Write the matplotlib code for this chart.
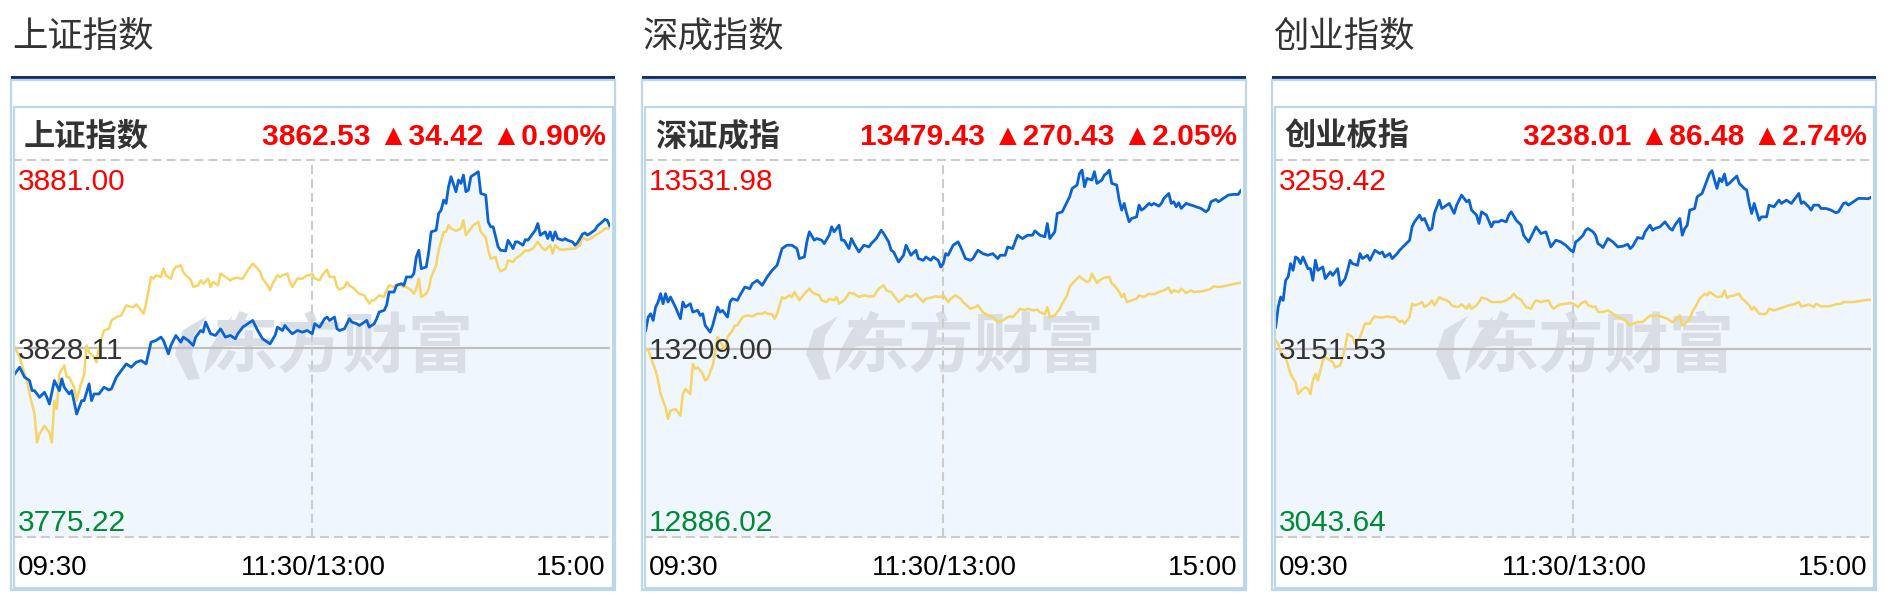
import numpy as np
import matplotlib
matplotlib.use("Agg")
import matplotlib.pyplot as plt
from matplotlib.patches import Rectangle, Polygon

plt.rcParams['font.family'] = ['Liberation Sans', 'Noto Sans CJK SC', 'DejaVu Sans']

# ---- data (minute index 0..240, 09:30 -> 15:00, lunch break removed) ----
titles = ["上证指数", "深成指数", "创业指数"]
names = ["上证指数", "深证成指", "创业板指"]
prev_close = [3828.11, 13209.00, 3151.53]
top_label = [3881.00, 13531.98, 3259.42]
bottom_label = [3775.22, 12886.02, 3043.64]
last_price = [3862.53, 13479.43, 3238.01]
change = [34.42, 270.43, 86.48]
change_pct = [0.90, 2.05, 2.74]
time_labels = ["09:30", "11:30/13:00", "15:00"]

sh_t = [0, 2, 4, 6, 7, 8, 10, 12, 13, 14, 16, 18, 19, 20, 22, 23, 25, 27, 28, 30,
        31, 32, 34, 36, 38, 39, 41, 43, 45, 47, 49, 51, 53, 55, 57, 59, 60, 62, 63, 65,
        67, 68, 70, 72, 73, 75, 76, 77, 79, 81, 83, 85, 87, 89, 90, 92, 94, 96, 97, 98,
        100, 101, 103, 105, 106, 108, 109, 110, 112, 114, 116, 118, 119,
        120, 121, 123, 125, 126, 127, 129, 130, 131, 133, 135, 136, 138, 139, 141, 142, 143, 145, 146, 147,
        149, 150, 151, 153, 154, 156, 157, 158, 160, 161, 162, 163, 164, 166, 167, 168, 170, 171, 172, 173,
        174, 175, 176, 178, 179, 180, 181, 182, 183, 184, 186, 187, 188, 190, 191, 192, 193, 195, 196, 198,
        199, 201, 202, 203, 205, 206, 207, 209, 210, 211, 212, 214, 215, 216, 217, 218, 219, 221, 222, 223,
        225, 226, 227, 229, 230, 231, 233, 234, 235, 237, 238, 239, 240]
sh_price = [3820.98, 3822.86, 3820.04, 3819.11, 3816.29, 3816.29, 3814.42, 3815.82, 3814.42, 3812.54,
            3819.11, 3816.29, 3819.58, 3817.23, 3815.36, 3816.29, 3809.73, 3813.48, 3813.48, 3818.17,
            3813.48, 3815.36, 3815.36, 3817.23, 3816.48, 3816.76, 3820.04, 3821.92, 3823.80, 3822.86,
            3824.26, 3824.73, 3823.80, 3829.89, 3830.36, 3831.30, 3830.36, 3826.61, 3828.95, 3831.77,
            3829.89, 3831.30, 3830.36, 3828.95, 3831.30, 3833.17, 3832.71, 3835.52, 3832.24, 3831.77,
            3833.64, 3831.30, 3831.77, 3830.83, 3832.24, 3834.11, 3835.05, 3835.99, 3834.58, 3833.17,
            3830.83, 3830.36, 3829.42, 3831.77, 3834.11, 3833.17, 3834.58, 3833.64, 3832.24, 3833.17,
            3832.71, 3833.17, 3832.71,
            3832.24, 3835.05, 3834.11, 3836.46, 3836.93, 3835.99, 3836.93, 3833.64, 3833.17, 3833.64,
            3836.46, 3835.52, 3835.05, 3834.58, 3835.52, 3835.99, 3834.11, 3835.05, 3836.46, 3838.33,
            3838.80, 3840.21, 3843.96, 3843.96, 3845.83, 3846.30, 3845.83, 3848.18, 3848.18, 3849.12,
            3853.81, 3855.68, 3850.52, 3850.99, 3855.21, 3860.84, 3861.31, 3866.00, 3866.93, 3869.75,
            3868.81, 3873.50, 3876.31, 3872.09, 3875.37, 3874.44, 3876.78, 3872.09, 3872.56, 3876.31,
            3877.25, 3877.72, 3871.62, 3871.16, 3863.65, 3862.25, 3862.25, 3856.62, 3855.68, 3855.49,
            3858.49, 3856.15, 3858.03, 3858.03, 3857.09, 3858.68, 3858.49, 3860.37, 3861.31, 3863.18,
            3859.90, 3860.84, 3858.96, 3860.84, 3858.49, 3860.84, 3858.96, 3858.49, 3858.96, 3858.49,
            3858.03, 3857.09, 3857.74, 3860.18, 3860.56, 3859.90, 3860.84, 3861.31, 3862.43, 3863.65,
            3864.31, 3864.12, 3862.53]

sh_avg_t = [0, 1, 2, 4, 5, 6, 8, 9, 10, 12, 14, 15, 16, 17, 18, 20, 21, 22, 24, 25,
            26, 28, 29, 30, 32, 33, 34, 36, 38, 39, 41, 43, 44, 45, 47, 48, 49, 51, 52, 53,
            55, 56, 57, 59, 60, 61, 63, 64, 65, 67, 68, 69, 71, 72, 74, 75, 76, 78, 79, 80,
            82, 83, 84, 86, 87, 88, 90, 91, 92, 94, 95, 96, 98, 99, 100, 102, 103, 104, 106, 107,
            108, 110, 111, 112, 114, 115, 116, 118, 119,
            120, 121, 123, 124, 126, 127, 129, 130, 131, 133, 134, 135, 137, 138, 139, 141, 143, 144, 145, 147,
            149, 150, 151, 153, 154, 155, 157, 158, 160, 161, 162, 163, 164, 166, 167, 168, 170, 171, 173, 174,
            175, 176, 178, 180, 181, 182, 183, 185, 186, 187, 188, 190, 191, 192, 194, 195, 196, 198, 199, 201,
            202, 204, 206, 207, 209, 210, 211, 213, 214, 216, 217, 218, 220, 222, 224, 226, 228, 229, 231, 233,
            235, 237, 238, 240]
sh_avg = [3828.49, 3827.08, 3825.67, 3820.98, 3819.11, 3815.36, 3809.73, 3801.76, 3804.10, 3806.45,
          3804.57, 3801.76, 3813.48, 3811.14, 3820.98, 3823.33, 3820.04, 3820.04, 3817.23, 3813.48,
          3816.29, 3820.98, 3828.95, 3827.08, 3825.67, 3824.26, 3828.49, 3833.17, 3833.64, 3835.99,
          3836.93, 3837.39, 3838.80, 3840.21, 3839.74, 3839.74, 3840.49, 3838.80, 3837.86, 3840.68,
          3848.18, 3847.71, 3848.65, 3848.18, 3850.52, 3848.65, 3847.71, 3850.05, 3850.99, 3851.46,
          3849.59, 3848.65, 3847.43, 3845.37, 3845.83, 3847.24, 3846.30, 3847.71, 3845.37, 3846.77,
          3845.83, 3849.12, 3848.65, 3847.71, 3847.24, 3847.71, 3847.99, 3847.71, 3847.71, 3850.05,
          3850.99, 3851.93, 3850.52, 3849.59, 3847.71, 3845.83, 3844.43, 3846.30, 3848.65, 3848.18,
          3848.65, 3849.12, 3846.77, 3845.37, 3847.71, 3847.71, 3847.71, 3848.65, 3848.65,
          3849.12, 3847.71, 3847.24, 3848.65, 3850.24, 3848.18, 3848.18, 3845.37, 3844.62, 3845.37,
          3846.77, 3845.83, 3844.90, 3843.96, 3843.49, 3843.02, 3840.68, 3841.61, 3841.61, 3843.02,
          3842.55, 3844.43, 3845.83, 3845.37, 3845.83, 3846.12, 3845.37, 3845.37, 3844.43, 3843.49,
          3844.90, 3847.71, 3842.55, 3843.49, 3844.90, 3848.18, 3851.46, 3855.68, 3860.84, 3860.84,
          3862.71, 3861.78, 3861.12, 3861.78, 3864.12, 3859.90, 3860.84, 3862.71, 3863.18, 3863.65,
          3860.84, 3859.24, 3855.68, 3853.34, 3853.81, 3850.99, 3849.77, 3850.52, 3852.87, 3852.40,
          3853.34, 3854.27, 3855.68, 3855.49, 3856.15, 3857.09, 3858.03, 3856.15, 3855.68, 3857.09,
          3854.74, 3857.09, 3855.87, 3855.87, 3856.06, 3856.15, 3857.09, 3859.43, 3858.49, 3859.24,
          3860.18, 3861.03, 3861.78, 3861.78]

sz_t = [0, 1, 2, 3, 4, 5, 6, 7, 8, 9, 10, 12, 14, 15, 16, 18, 19, 21, 22, 23,
        24, 26, 27, 29, 30, 31, 33, 34, 35, 37, 38, 40, 42, 43, 45, 47, 49, 51, 53, 54,
        55, 57, 59, 61, 62, 64, 65, 66, 68, 69, 71, 72, 74, 75, 76, 78, 79, 80, 82, 83,
        84, 86, 88, 90, 91, 93, 95, 96, 98, 99, 100, 102, 104, 105, 107, 109, 110, 112, 113, 115,
        116, 118, 119,
        120, 121, 122, 124, 126, 127, 129, 131, 132, 134, 136, 138, 140, 142, 143, 145, 146, 148, 150, 152,
        154, 156, 157, 159, 161, 162, 163, 165, 166, 168, 170, 171, 172, 174, 175, 176, 177, 178, 180, 181,
        182, 184, 185, 186, 187, 188, 190, 191, 192, 193, 194, 195, 196, 198, 199, 200, 201, 203, 204, 205,
        207, 208, 209, 211, 212, 213, 214, 215, 216, 218, 220, 221, 222, 224, 226, 227, 228, 230, 231, 233,
        235, 237, 239, 240]
sz_price = [13239.9, 13262.8, 13268.6, 13257.1, 13280.0, 13288.6, 13302.9, 13285.7, 13302.9, 13288.6,
            13297.2, 13280.0, 13260.0, 13288.6, 13280.0, 13285.7, 13271.4, 13274.3, 13265.7, 13268.6,
            13248.5, 13237.1, 13248.5, 13280.0, 13271.4, 13274.3, 13262.8, 13288.6, 13294.3, 13291.5,
            13300.1, 13314.4, 13311.5, 13320.1, 13325.8, 13317.2, 13331.6, 13343.0, 13351.6, 13365.9,
            13380.2, 13386.0, 13386.0, 13380.2, 13363.1, 13365.9, 13391.7, 13408.9, 13394.6, 13397.4,
            13394.6, 13388.8, 13403.1, 13417.5, 13408.9, 13420.3, 13394.6, 13394.6, 13380.2, 13397.4,
            13388.8, 13374.5, 13386.0, 13383.1, 13388.8, 13397.4, 13411.7, 13406.0, 13391.7, 13377.4,
            13374.5, 13357.3, 13368.8, 13386.0, 13368.8, 13377.4, 13363.1, 13360.2, 13365.9, 13360.2,
            13365.9, 13360.2, 13348.7,
            13354.5, 13371.6, 13368.8, 13386.0, 13391.7, 13383.1, 13363.1, 13360.2, 13363.1, 13377.4,
            13371.6, 13368.8, 13371.6, 13363.1, 13368.8, 13368.8, 13383.1, 13380.2, 13403.1, 13397.4,
            13403.1, 13403.1, 13410.6, 13403.1, 13400.3, 13423.2, 13397.4, 13408.9, 13440.4, 13443.2,
            13460.4, 13469.0, 13483.3, 13489.1, 13509.1, 13514.8, 13486.2, 13500.5, 13497.6, 13512.0,
            13491.9, 13497.6, 13506.2, 13509.1, 13514.8, 13491.9, 13489.1, 13463.3, 13446.1, 13457.6,
            13440.4, 13426.1, 13431.8, 13434.6, 13454.7, 13446.1, 13449.0, 13457.6, 13454.7, 13457.6,
            13453.0, 13457.6, 13466.1, 13474.7, 13457.6, 13460.4, 13451.8, 13458.7, 13449.0, 13457.6,
            13454.7, 13453.5, 13451.8, 13449.0, 13443.2, 13447.2, 13460.4, 13464.4, 13460.4, 13466.1,
            13471.9, 13473.0, 13473.0, 13479.43]

sz_avg_t = [0, 1, 2, 4, 5, 6, 8, 9, 10, 12, 14, 15, 16, 18, 19, 20, 21, 23, 24, 25,
            27, 28, 29, 31, 32, 33, 35, 36, 37, 39, 41, 43, 45, 47, 48, 49, 51, 52, 53, 55,
            56, 58, 59, 60, 62, 64, 66, 67, 68, 70, 71, 73, 74, 76, 77, 78, 80, 81, 82, 84,
            86, 88, 90, 92, 93, 94, 96, 97, 99, 100, 102, 104, 105, 107, 109, 110, 112, 113, 115, 117,
            119,
            120, 122, 123, 125, 127, 128, 131, 133, 134, 136, 138, 140, 142, 144, 146, 147, 148, 150, 151, 153,
            154, 156, 158, 159, 161, 162, 163, 165, 167, 168, 170, 171, 172, 174, 175, 176, 178, 179, 180, 182,
            183, 185, 187, 188, 189, 191, 192, 193, 194, 196, 198, 199, 201, 203, 205, 207, 209, 211, 212, 213,
            215, 216, 218, 220, 221, 224, 226, 228, 229, 231, 233, 236, 238, 240]
sz_avg = [13205.6, 13208.4, 13194.1, 13171.2, 13154.0, 13131.1, 13108.2, 13088.2, 13102.5, 13105.3,
          13093.9, 13131.1, 13139.7, 13131.1, 13182.7, 13174.1, 13176.9, 13165.5, 13154.0, 13156.9,
          13179.8, 13202.7, 13228.5, 13214.2, 13205.6, 13228.5, 13239.9, 13248.5, 13248.5, 13262.8,
          13265.7, 13264.0, 13268.6, 13268.6, 13271.4, 13268.6, 13267.5, 13260.0, 13268.6, 13297.2,
          13294.3, 13300.1, 13297.2, 13305.8, 13291.5, 13302.9, 13311.5, 13305.8, 13302.9, 13300.1,
          13291.5, 13288.6, 13294.3, 13291.5, 13297.2, 13285.7, 13291.5, 13297.2, 13304.1, 13302.9,
          13297.2, 13300.1, 13298.3, 13298.3, 13305.8, 13311.5, 13317.2, 13308.6, 13305.8, 13300.1,
          13288.6, 13294.3, 13300.1, 13297.2, 13302.9, 13297.2, 13288.6, 13294.3, 13296.0, 13298.3,
          13297.2,
          13300.1, 13288.6, 13294.3, 13300.1, 13294.3, 13288.6, 13277.2, 13280.0, 13282.9, 13271.4,
          13265.7, 13262.8, 13254.2, 13257.1, 13262.8, 13264.0, 13262.8, 13271.4, 13277.2, 13274.3,
          13277.2, 13274.3, 13275.4, 13271.4, 13267.4, 13280.0, 13262.8, 13265.7, 13277.2, 13285.7,
          13300.1, 13314.4, 13320.1, 13328.7, 13332.7, 13328.7, 13323.0, 13324.7, 13337.3, 13321.2,
          13325.8, 13330.4, 13331.6, 13320.1, 13317.2, 13305.8, 13297.2, 13302.9, 13288.6, 13291.5,
          13294.3, 13300.1, 13297.2, 13302.9, 13301.8, 13305.8, 13308.6, 13313.2, 13304.1, 13308.6,
          13305.8, 13311.5, 13304.1, 13308.6, 13305.8, 13306.9, 13308.6, 13311.5, 13315.5, 13314.4,
          13315.5, 13318.4, 13320.1, 13321.8]

cy_t = [0, 1, 2, 3, 4, 5, 6, 7, 8, 9, 10, 11, 13, 14, 15, 16, 17, 19, 20, 22,
        23, 25, 26, 28, 29, 30, 31, 33, 34, 35, 37, 38, 40, 42, 43, 44, 46, 47, 49, 50,
        52, 54, 55, 56, 58, 59, 60, 62, 63, 64, 66, 67, 68, 70, 72, 73, 75, 77, 78, 79,
        81, 82, 83, 85, 87, 88, 90, 91, 93, 94, 95, 97, 99, 100, 102, 104, 105, 107, 109, 111,
        113, 115, 117, 119,
        120, 121, 122, 124, 125, 126, 128, 129, 130, 131, 132, 134, 136, 138, 140, 142, 143, 144, 146, 148,
        149, 151, 152, 153, 155, 157, 159, 160, 161, 163, 164, 165, 166, 167, 169, 170, 172, 173, 175, 176,
        177, 178, 179, 180, 181, 182, 183, 185, 186, 187, 189, 190, 191, 192, 193, 195, 196, 198, 199, 201,
        202, 203, 204, 206, 208, 209, 211, 212, 213, 215, 216, 217, 219, 220, 222, 224, 226, 227, 229, 230,
        231, 233, 235, 237, 239, 240]
cy_price = [3163.77, 3175.25, 3180.99, 3179.08, 3190.56, 3192.47, 3200.12, 3196.29, 3203.95, 3202.99,
            3200.12, 3203.95, 3197.25, 3197.25, 3190.56, 3202.03, 3196.29, 3198.21, 3191.51, 3195.34,
            3193.42, 3197.25, 3187.69, 3191.51, 3196.29, 3202.03, 3200.12, 3199.16, 3205.86, 3202.99,
            3204.90, 3202.03, 3207.77, 3205.86, 3206.82, 3203.95, 3205.86, 3202.99, 3205.86, 3207.77,
            3210.64, 3213.51, 3221.16, 3224.03, 3227.86, 3224.99, 3225.95, 3219.25, 3220.21, 3228.82,
            3236.47, 3231.68, 3232.64, 3234.55, 3228.82, 3233.60, 3239.34, 3235.51, 3236.47, 3230.73,
            3227.86, 3223.08, 3229.77, 3227.86, 3221.16, 3224.03, 3224.03, 3224.99, 3224.03, 3227.86,
            3229.77, 3224.99, 3222.12, 3216.38, 3212.55, 3218.29, 3221.16, 3217.34, 3218.29, 3209.69,
            3213.51, 3212.55, 3210.64, 3207.77,
            3206.82, 3212.55, 3213.51, 3216.38, 3219.25, 3220.21, 3218.29, 3216.38, 3211.60, 3210.64,
            3209.30, 3214.47, 3212.55, 3209.69, 3210.07, 3211.22, 3208.73, 3210.07, 3215.04, 3214.47,
            3218.29, 3222.12, 3219.25, 3220.21, 3221.16, 3224.03, 3220.21, 3219.25, 3222.12, 3225.95,
            3216.38, 3220.21, 3222.12, 3230.73, 3231.68, 3238.38, 3240.29, 3244.12, 3251.77, 3253.30,
            3247.95, 3243.16, 3248.90, 3246.99, 3251.39, 3245.08, 3246.03, 3248.90, 3250.24, 3246.03,
            3243.16, 3242.21, 3234.55, 3228.82, 3234.55, 3224.99, 3226.90, 3226.90, 3233.60, 3232.64,
            3234.55, 3236.47, 3234.55, 3236.47, 3234.55, 3236.47, 3240.29, 3234.55, 3235.51, 3232.64,
            3230.73, 3233.60, 3233.60, 3231.68, 3231.68, 3230.73, 3229.20, 3229.77, 3234.55, 3234.94,
            3233.60, 3235.51, 3237.42, 3237.42, 3237.23, 3238.01]

cy_avg_t = [0, 1, 2, 4, 5, 6, 8, 9, 11, 12, 13, 14, 15, 16, 17, 19, 20, 21, 23, 24,
            26, 27, 28, 29, 31, 32, 34, 35, 36, 38, 39, 40, 42, 44, 45, 46, 48, 50, 51, 52,
            54, 55, 56, 58, 59, 60, 62, 63, 64, 66, 67, 69, 70, 71, 73, 74, 75, 77, 78, 79,
            81, 82, 83, 85, 86, 87, 89, 91, 93, 95, 96, 97, 99, 100, 101, 103, 104, 105, 107, 110,
            111, 112, 114, 115, 117, 119,
            120, 122, 123, 125, 126, 128, 129, 130, 132, 133, 134, 136, 138, 140, 141, 143, 144, 146, 148, 149,
            151, 152, 154, 156, 158, 160, 161, 163, 164, 165, 167, 168, 170, 171, 173, 174, 175, 177, 178, 180,
            181, 182, 183, 185, 187, 188, 189, 191, 192, 193, 195, 197, 198, 199, 201, 203, 205, 207, 209, 211,
            212, 214, 215, 217, 218, 220, 223, 226, 228, 229, 231, 233, 235, 237, 240]
cy_avg = [3156.12, 3154.21, 3149.43, 3146.56, 3141.77, 3136.99, 3132.21, 3125.51, 3128.38, 3129.34,
          3128.38, 3125.51, 3133.17, 3136.99, 3133.17, 3144.64, 3146.56, 3145.60, 3143.69, 3140.82,
          3141.77, 3146.56, 3152.30, 3159.95, 3158.03, 3154.21, 3158.03, 3161.86, 3165.69, 3165.69,
          3168.56, 3169.89, 3169.13, 3169.51, 3169.89, 3169.51, 3169.51, 3166.64, 3167.60, 3165.69,
          3169.51, 3177.16, 3176.21, 3177.16, 3178.12, 3175.25, 3177.16, 3179.08, 3176.21, 3180.99,
          3180.03, 3179.08, 3178.12, 3176.21, 3175.25, 3175.63, 3176.78, 3174.29, 3176.78, 3174.29,
          3176.21, 3178.12, 3180.61, 3180.03, 3179.08, 3178.12, 3178.12, 3178.12, 3179.08, 3180.99,
          3182.90, 3180.99, 3179.46, 3177.16, 3175.25, 3174.29, 3177.16, 3179.08, 3178.12, 3179.08,
          3176.21, 3174.29, 3176.21, 3176.78, 3177.16, 3177.55,
          3177.16, 3175.25, 3177.16, 3178.69, 3176.21, 3175.25, 3175.63, 3172.38, 3172.38, 3172.96,
          3173.34, 3171.43, 3169.51, 3168.56, 3167.60, 3164.73, 3165.69, 3166.64, 3166.64, 3167.98,
          3170.47, 3169.89, 3170.47, 3169.51, 3168.56, 3166.64, 3167.60, 3170.47, 3164.73, 3165.69,
          3168.56, 3172.38, 3177.16, 3180.03, 3182.90, 3181.95, 3183.86, 3181.95, 3180.99, 3181.37,
          3184.82, 3180.61, 3181.37, 3181.95, 3182.90, 3180.03, 3179.08, 3176.21, 3173.72, 3175.25,
          3171.43, 3171.04, 3171.81, 3174.29, 3173.34, 3174.29, 3175.25, 3176.21, 3176.78, 3178.12,
          3175.63, 3176.21, 3176.78, 3175.25, 3177.16, 3175.63, 3175.63, 3176.78, 3177.16, 3178.12,
          3178.12, 3178.12, 3178.50, 3179.08, 3179.46]

price_t = [sh_t, sz_t, cy_t]
price = [sh_price, sz_price, cy_price]
avg_t = [sh_avg_t, sz_avg_t, cy_avg_t]
avg = [sh_avg, sz_avg, cy_avg]

# ---- layout in pixels ----
W, H = 1887, 594
OFFSETS = [0, 631, 1261]
BLUE = '#0a63d0'
YELLOW = '#f7d466'
FILL = '#eff6fd'
BORDER = '#bcd6ea'
NAVY = '#172f6b'
GRID = '#cccccc'
RED = '#ff0000'
GREEN = '#008a36'
DARK = '#333333'
WM = '#d9dde5'

fig = plt.figure(figsize=(W / 100, H / 100), dpi=100)
fig.patch.set_facecolor('white')

ov = fig.add_axes([0, 0, 1, 1], zorder=3)
ov.set_xlim(0, W)
ov.set_ylim(H, 0)
ov.axis('off')
ov.patch.set_alpha(0)


def px_axes(x0, y0, x1, y1):
    return fig.add_axes([x0 / W, 1 - y1 / H, (x1 - x0) / W, (y1 - y0) / H], zorder=1)


for k in range(3):
    off = OFFSETS[k]
    lo, hi, mid = bottom_label[k], top_label[k], prev_close[k]

    # frames
    ov.add_patch(Rectangle((off + 11, 76), 604, 4, color=NAVY, lw=0))
    ov.add_patch(Rectangle((off + 11, 80), 604, 510, fill=False, ec=BORDER, lw=1.6))
    ov.add_patch(Rectangle((off + 13.5, 107), 599, 481, fill=False, ec=BORDER, lw=1.6))

    ov.text(off + 12, 37, titles[k], fontsize=25.5, color=DARK, va='center', ha='left',
            family=['Noto Sans CJK SC'])
    ov.text(off + 24, 137, names[k], fontsize=22.5, color=DARK, fontweight='bold', va='center',
            ha='left', family=['Noto Sans CJK SC'])
    head = "%.2f ▲%.2f ▲%.2f%%" % (last_price[k], change[k], change_pct[k])
    ov.text(off + 606, 137, head, fontsize=21.5, color=RED, fontweight='bold', va='center',
            ha='right')

    # chart area
    ax = px_axes(off + 14.7, 160, off + 609.7, 537)
    ax.set_xlim(0, 240)
    ax.set_ylim(lo, hi)
    ax.axis('off')
    ax.patch.set_alpha(0)

    ax.fill_between(price_t[k], price[k], lo, color=FILL, lw=0, zorder=1)
    ax.text(off + 343, 347, "东方财富", transform=ov.transData, fontsize=47, color=WM,
            fontweight='bold', ha='center', va='center', family=['Noto Sans CJK SC'], zorder=2)
    ax.add_patch(Polygon([(off + 188, 380), (off + 175, 354), (off + 183, 330), (off + 207, 316),
                          (off + 194, 336), (off + 192, 357), (off + 200, 379)],
                         closed=True, transform=ov.transData, color=WM, lw=0, zorder=2))
    ax.add_patch(Polygon([(off + 204, 374), (off + 209, 351), (off + 220, 331), (off + 232, 316),
                          (off + 228, 340), (off + 215, 362)],
                         closed=True, transform=ov.transData, color=WM, lw=0, zorder=2))

    ax.axhline(mid, color='#c0c0c0', lw=1.6, zorder=2.5)
    ax.axvline(120, color=GRID, lw=1.5, ls=(0, (4.3, 2.4)), zorder=2.5)
    ax.plot(avg_t[k], avg[k], color=YELLOW, lw=1.8, zorder=3)
    ax.plot(price_t[k], price[k], color=BLUE, lw=2.0, zorder=4)

    for yy in (160, 537):
        ov.plot([off + 13, off + 611], [yy, yy], color=GRID, lw=1.5, ls=(0, (4.3, 2.4)))

    # value labels
    ov.text(off + 18, 190, "%.2f" % hi, fontsize=21.5, color=RED, ha='left', va='baseline')
    ov.text(off + 18, 359, "%.2f" % mid, fontsize=21.5, color=DARK, ha='left', va='baseline')
    ov.text(off + 18, 531, "%.2f" % lo, fontsize=21.5, color=GREEN, ha='left', va='baseline')

    # time labels
    ov.text(off + 18, 575, time_labels[0], fontsize=20, color='black', ha='left', va='baseline')
    ov.text(off + 313, 575, time_labels[1], fontsize=20, color='black', ha='center', va='baseline')
    ov.text(off + 606, 575, time_labels[2], fontsize=20, color='black', ha='right', va='baseline')

fig.savefig("out.png", dpi=100, facecolor='white')
